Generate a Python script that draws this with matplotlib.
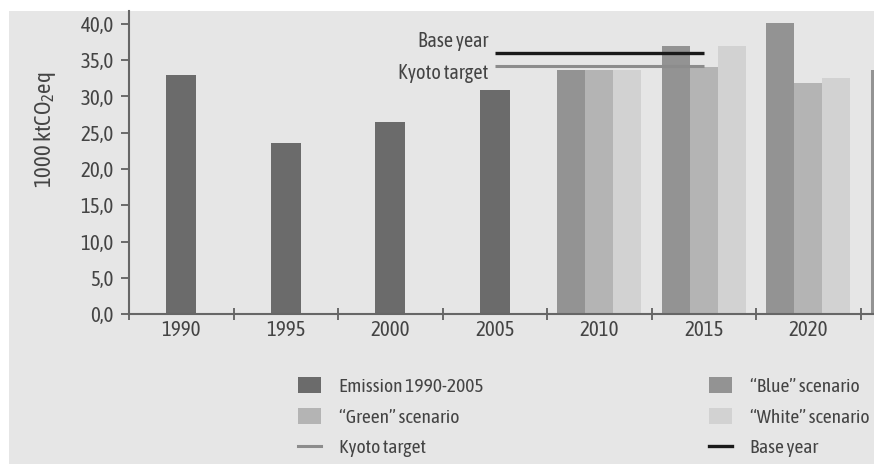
import matplotlib
matplotlib.use("Agg")
import matplotlib.pyplot as plt
import numpy as np
from matplotlib.patches import Rectangle, Patch
from matplotlib.lines import Line2D
from matplotlib.ticker import FuncFormatter

# ---- data ----
years = ["1990", "1995", "2000", "2005", "2010", "2015", "2020", "2025"]
emission = [33.0, 23.6, 26.5, 30.9, np.nan, np.nan, np.nan, np.nan]
blue = [np.nan, np.nan, np.nan, np.nan, 33.6, 36.9, 40.1, 33.6]
green = [np.nan, np.nan, np.nan, np.nan, 33.6, 34.1, 31.8, np.nan]
white = [np.nan, np.nan, np.nan, np.nan, 33.6, 36.9, 32.6, np.nan]
base_year = 36.0
kyoto_target = 34.25
ref_span = (3.0, 5.0)  # line extent in category units (2005 .. 2015)

FONT = ["Asap Condensed", "Liberation Sans Narrow", "DejaVu Sans"]
plt.rcParams["font.family"] = FONT
plt.rcParams["mathtext.fontset"] = "custom"
plt.rcParams["mathtext.rm"] = "Asap Condensed"
plt.rcParams["mathtext.it"] = "Asap Condensed"

FS_TICK = 15
FS_ANN = 14.5
FS_LEG = 14
FS_YLAB = 16.5
TXT = "#444444"

W, H = 874, 465
fig = plt.figure(figsize=(W / 100, H / 100), dpi=100)
fig.patch.set_facecolor("white")
BG = "#e6e6e6"
fig.patches.append(Rectangle((9 / W, 1 / H), 1, 1 - 12 / H, transform=fig.transFigure,
                             facecolor=BG, edgecolor="none", zorder=-10))

ncat = len(years)
cat_px = 104.5
left_px, bottom_px, top_px = 129, 314, 11
ax = fig.add_axes([left_px / W, (H - bottom_px) / H, ncat * cat_px / W, (bottom_px - top_px) / H])
ax.set_facecolor("none")

x = np.arange(ncat)
C_EM, C_BLUE, C_GREEN, C_WHITE = "#6b6b6b", "#939393", "#b4b4b4", "#d2d2d2"
ax.bar(x, emission, width=0.285, color=C_EM, zorder=2)
w = 0.268
ax.bar(x - w, blue, width=w, color=C_BLUE, zorder=2)
ax.bar(x, green, width=w, color=C_GREEN, zorder=2)
ax.bar(x + w, white, width=w, color=C_WHITE, zorder=2)

ax.plot(ref_span, [base_year, base_year], color="#1a1a1a", lw=2.4, zorder=5, solid_capstyle="butt")
ax.plot(ref_span, [kyoto_target, kyoto_target], color="#8c8c8c", lw=2.2, zorder=4, solid_capstyle="butt")
ax.text(ref_span[0] - 0.06, base_year + 1.6, "Base year", ha="right", va="center",
        fontsize=FS_ANN, color=TXT)
ax.text(ref_span[0] - 0.06, kyoto_target - 1.05, "Kyoto target", ha="right", va="center",
        fontsize=FS_ANN, color=TXT)

ax.set_xlim(-0.5, ncat - 0.5)
ax.set_ylim(0, (bottom_px - top_px) / 7.25)
ax.set_yticks(np.arange(0, 41, 5))
ax.yaxis.set_major_formatter(FuncFormatter(lambda v, p: f"{v:.1f}".replace(".", ",")))
ax.set_xticks(np.arange(-0.5, ncat, 1))
ax.set_xticklabels([])
# the last category lies beyond the cropped right edge, so its label is not shown
visible = x[:-1]
ax.set_xticks(visible, minor=True)
ax.set_xticklabels(years[:-1], minor=True)
ax.tick_params(axis="x", which="major", direction="inout", length=8, width=1.2, color="#555555")
ax.tick_params(axis="x", which="minor", length=0, pad=4, labelsize=FS_TICK, labelcolor=TXT)
ax.tick_params(axis="y", direction="out", length=6, width=1.2, color="#555555",
               labelsize=FS_TICK, labelcolor=TXT, pad=5)
for s in ["top", "right"]:
    ax.spines[s].set_visible(False)
for s in ["left", "bottom"]:
    ax.spines[s].set_color("#666666")
    ax.spines[s].set_linewidth(1.5)

fig.text(45 / W, 1 - 130 / H, r"1000 ktCO$_2$eq", rotation=90, ha="center", va="center",
         fontsize=FS_YLAB, color=TXT)

# ---- legends ----
h_em = Patch(facecolor=C_EM, label="Emission 1990-2005")
h_green = Patch(facecolor=C_GREEN, label="\u201cGreen\u201d scenario")
h_kyoto = Line2D([], [], color="#8c8c8c", lw=2.2, label="Kyoto target")
h_blue = Patch(facecolor=C_BLUE, label="\u201cBlue\u201d scenario")
h_white = Patch(facecolor=C_WHITE, label="\u201cWhite\u201d scenario")
h_base = Line2D([], [], color="#1a1a1a", lw=2.4, label="Base year")

common = dict(frameon=False, fontsize=FS_LEG, labelcolor=TXT, handlelength=1.2,
              handleheight=0.9, handletextpad=0.9, labelspacing=0.62, borderpad=0,
              borderaxespad=0, loc="upper left")
leg1 = fig.legend(handles=[h_em, h_green, h_kyoto], bbox_to_anchor=(298 / W, 1 - 377 / H), **common)
leg2 = fig.legend(handles=[h_blue, h_white, h_base], bbox_to_anchor=(709 / W, 1 - 377 / H), **common)

fig.savefig("out.png", dpi=100)
